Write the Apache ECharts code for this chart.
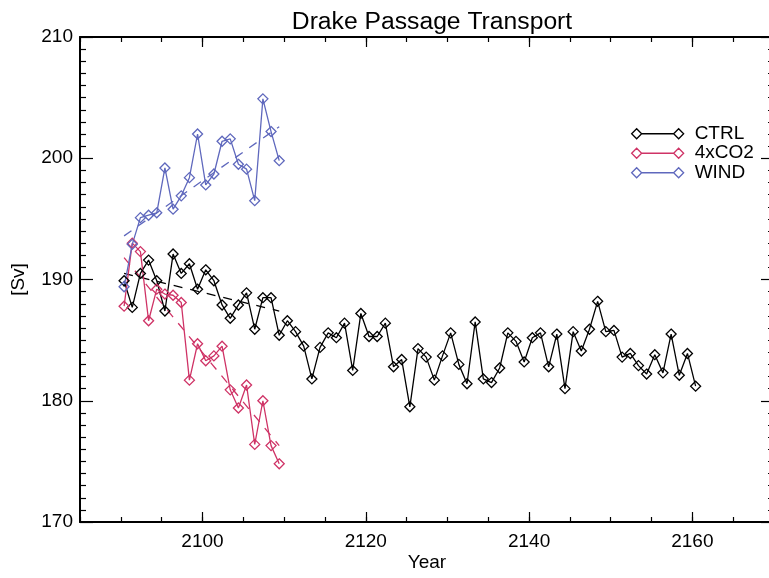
<!DOCTYPE html>
<html lang="en">
<head>
<meta charset="UTF-8" />
<title>Drake Passage Transport</title>
<script src="https://cdn.jsdelivr.net/npm/echarts@6/dist/echarts.min.js"></script>
</head>
<body style="margin: 0">
<div id="chart" style="width: 769px; height: 578px"></div>
<script>
const startYear = 2090;
const yearOffset = 0.4; // annual means are plotted a little past the year mark

const ctrl = [
  189.9, 187.7, 190.5, 191.6, 189.9, 187.4, 192.1, 190.5, 191.3, 189.2,
  190.8, 189.9, 187.9, 186.8, 187.9, 188.9, 185.9, 188.5, 188.5, 185.4,
  186.6, 185.7, 184.5, 181.8, 184.4, 185.6, 185.2, 186.4, 182.5, 187.2,
  185.3, 185.3, 186.4, 182.8, 183.4, 179.5, 184.3, 183.6, 181.7, 183.7,
  185.6, 183.0, 181.4, 186.5, 181.8, 181.5, 182.7, 185.6, 184.9, 183.2,
  185.2, 185.6, 182.8, 185.5, 181.0, 185.7, 184.1, 185.9, 188.2, 185.7,
  185.8, 183.6, 183.9, 182.9, 182.2, 183.8, 182.3, 185.5, 182.1, 183.9,
  181.2
];
const co2 = [
  187.8, 193.0, 192.3, 186.6, 189.2, 188.8, 188.7, 188.1, 181.7, 184.7,
  183.3, 183.7, 184.5, 180.9, 179.4, 181.3, 176.4, 180.0, 176.3, 174.8
];
const wind = [
  189.4, 192.9, 195.1, 195.3, 195.5, 199.2, 195.8, 196.9, 198.4, 202.0,
  197.8, 198.7, 201.4, 201.6, 199.5, 199.1, 196.5, 204.9, 202.2, 199.8
];

// dashed linear trends over the first 20 years
const trendYears = [2090, 2109];
const ctrlTrend = [190.5, 187.4];
const co2Trend = [191.8, 176.3];
const windTrend = [193.6, 202.6];

const majorYears = [2100, 2120, 2140, 2160];

const names = ["CTRL", "4xCO2", "WIND"];
const colors = ["#000000", "#cf3366", "#5f68bd"];
const font = "'Liberation Sans', Arial, Helvetica, sans-serif";

const toPoints = (vals) => vals.map((v, i) => [startYear + i + yearOffset, v]);
const toTrend = (vals) => vals.map((v, i) => [trendYears[i] + yearOffset, v]);

const chart = echarts.init(document.getElementById("chart"));

const axisLine = { show: true, lineStyle: { color: "#000", width: 2 } };
const tickStyle = { color: "#000", width: 1.2 };

const dataSeries = (name, vals, color) => ({
  name: name,
  type: "line",
  data: toPoints(vals),
  symbol: "diamond",
  symbolSize: 10,
  lineStyle: { color: color, width: 1.3 },
  itemStyle: { color: "rgba(0,0,0,0)", borderColor: color, borderWidth: 1.3 },
  emphasis: { disabled: true },
  z: 3,
});

const trendSeries = (name, vals, color) => ({
  name: name + " trend",
  type: "line",
  data: toTrend(vals),
  symbol: "none",
  lineStyle: { color: color, width: 1.3, type: [9, 8] },
  silent: true,
  z: 2,
});

const legendIcon = "path://M0,5L5,0L10,5L5,10ZM42,5L47,0L52,5L47,10ZM10,5L42,5";

const option = {
  animation: false,
  title: {
    text: "Drake Passage Transport",
    left: 427,
    textAlign: "center",
    top: 5,
    textStyle: { fontFamily: font, fontSize: 24.7, fontWeight: "normal", color: "#000" },
  },
  grid: { left: 80, top: 37, width: 694, height: 485, outerBoundsMode: "none" },
  legend: {
    orient: "vertical",
    left: 631,
    top: 124,
    padding: 0,
    itemWidth: 52,
    itemHeight: 10,
    itemGap: 0,
    selectedMode: false,
    textStyle: { fontFamily: font, fontSize: 19, color: "#000", lineHeight: 19.5, padding: [0, 0, 0, 6] },
    data: names.map((n, i) => ({
      name: n,
      icon: legendIcon,
      itemStyle: { color: "rgba(0,0,0,0)", borderColor: colors[i], borderWidth: 1.3 },
    })),
  },
  xAxis: [
    {
      type: "value", position: "bottom", min: 2085, max: 2170, interval: 5,
      axisLine: axisLine,
      axisTick: { inside: true, length: 5, lineStyle: tickStyle },
      axisLabel: { show: false },
      splitLine: { show: false },
      name: "Year", nameLocation: "middle", nameGap: 31,
      nameTextStyle: { fontFamily: font, fontSize: 19, color: "#000" },
    },
    {
      type: "value", position: "bottom", min: 2085, max: 2170,
      axisLine: { show: false },
      axisTick: { inside: true, length: 10, customValues: majorYears, lineStyle: tickStyle },
      axisLabel: {
        customValues: majorYears, fontFamily: font, fontSize: 19, color: "#000", margin: 10,
        formatter: (v) => String(v),
      },
      splitLine: { show: false },
    },
    {
      type: "value", position: "top", min: 2085, max: 2170, interval: 5,
      axisLine: axisLine,
      axisTick: { inside: true, length: 5, lineStyle: tickStyle },
      axisLabel: { show: false },
      splitLine: { show: false },
    },
    {
      type: "value", position: "top", min: 2085, max: 2170,
      axisLine: { show: false },
      axisTick: { inside: true, length: 10, customValues: majorYears, lineStyle: tickStyle },
      axisLabel: { show: false },
      splitLine: { show: false },
    },
  ],
  yAxis: [
    {
      type: "value", position: "left", min: 170, max: 210, interval: 10,
      axisLine: axisLine,
      axisTick: { inside: true, length: 13, lineStyle: tickStyle },
      minorTick: { show: true, splitNumber: 10, length: 6, lineStyle: tickStyle },
      axisLabel: { fontFamily: font, fontSize: 19, color: "#000", margin: 7 },
      splitLine: { show: false },
      name: "[Sv]", nameLocation: "middle", nameGap: 52, nameRotate: 90,
      nameTextStyle: { fontFamily: font, fontSize: 19, color: "#000" },
    },
    {
      type: "value", position: "right", min: 170, max: 210, interval: 10,
      axisLine: axisLine,
      axisTick: { inside: true, length: 13, lineStyle: tickStyle },
      minorTick: { show: true, splitNumber: 10, length: 6, lineStyle: tickStyle },
      axisLabel: { show: false },
      splitLine: { show: false },
    },
  ],
  series: [
    trendSeries(names[0], ctrlTrend, colors[0]),
    trendSeries(names[1], co2Trend, colors[1]),
    trendSeries(names[2], windTrend, colors[2]),
    dataSeries(names[0], ctrl, colors[0]),
    dataSeries(names[1], co2, colors[1]),
    dataSeries(names[2], wind, colors[2]),
  ],
};

chart.setOption(option);
</script>
</body>
</html>
